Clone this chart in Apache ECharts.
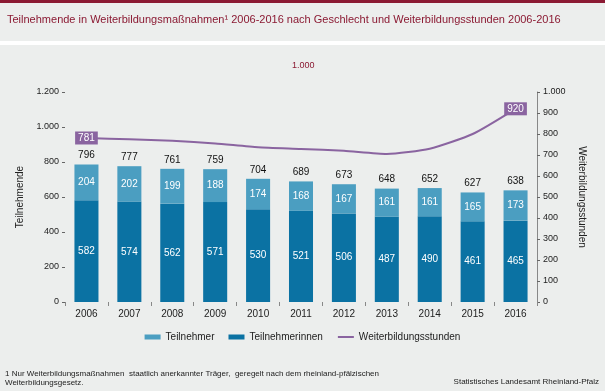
<!DOCTYPE html>
<html><head><meta charset="utf-8">
<script src="https://cdn.jsdelivr.net/npm/echarts@6/dist/echarts.min.js"></script>
<style>html,body{margin:0;padding:0;background:#eceeed;}#c{width:605px;height:391px;}</style>
</head><body><div id="c"></div>
<script>
const years = ['2006','2007','2008','2009','2010','2011','2012','2013','2014','2015','2016'];
const teilnehmerinnen = [582,574,562,571,530,521,506,487,490,461,465];
const teilnehmer = [204,202,199,188,174,168,167,161,161,165,173];
const totals = [796,777,761,759,704,689,673,648,652,627,638];
const stunden = [781,775,768,755,737,729,720,705,730,800,920];
const leftTicks = [0,200,400,600,800,1000,1200];
const rightTicks = [0,100,200,300,400,500,600,700,800,900,1000];

function de(v){return String(v).replace(/\B(?=(\d{3})+(?!\d))/g,'.');}
const F = 'Liberation Sans, Arial, sans-serif';
const last = stunden.length-1;
const lineData = stunden.map((v,i)=> (i===0||i===last) ? {value:v,symbol:'circle',symbolSize:1,
  label:{show:true,position:'inside',color:'#fff',fontSize:10,fontFamily:F,backgroundColor:'#8a64a0',padding:[2,3,1,3]}} : v);
const chart = echarts.init(document.getElementById('c'));
chart.setOption({
  backgroundColor:'#eceeed',
  animation:false,
  textStyle:{fontFamily:F},
  graphic:[
    {type:'rect',shape:{x:0,y:0,width:605,height:3},style:{fill:'#8b1a33'}},
    {type:'rect',shape:{x:0,y:41,width:605,height:4},style:{fill:'#ffffff'}},
    {type:'text',left:7,top:14,style:{text:'Teilnehmende in Weiterbildungsmaßnahmen¹ 2006-2016 nach Geschlecht und Weiterbildungsstunden 2006-2016',fill:'#8b1a33',font:'11px '+F}},
    {type:'text',left:292,top:61,style:{text:'1.000',fill:'#8b1a33',font:'9px '+F}},
    {type:'text',left:5,top:369,style:{text:'1 Nur Weiterbildungsmaßnahmen  staatlich anerkannter Träger,  geregelt nach dem rheinland-pfälzischen\nWeiterbildungsgesetz.',fill:'#222',font:'8px '+F,lineHeight:9}},
    {type:'text',right:6,top:378,style:{text:'Statistisches Landesamt Rheinland-Pfalz',fill:'#222',font:'8px '+F}}
  ],
  legend:{
    top:327,left:'center',itemWidth:16,itemHeight:5,itemGap:14,
    textStyle:{fontSize:10,color:'#222',fontFamily:F},
    data:[{name:'Teilnehmer',icon:'rect'},{name:'Teilnehmerinnen',icon:'rect'},
      {name:'Weiterbildungsstunden',itemStyle:{opacity:0,borderWidth:0}}]
  },
  grid:{left:65,right:68,top:92,bottom:89},
  xAxis:{type:'category',data:years,
    axisLine:{show:false},
    axisTick:{show:true,length:4,lineStyle:{color:'#888'}},
    axisLabel:{fontSize:10,color:'#222',margin:7,fontFamily:F}},
  yAxis:[
    {type:'value',min:0,max:1200,interval:200,name:'Teilnehmende',nameLocation:'middle',nameGap:37,nameRotate:90,
     nameTextStyle:{fontSize:10,color:'#222',fontFamily:F},
     axisLine:{show:false},axisTick:{show:true,length:3,lineStyle:{color:'#666'}},
     splitLine:{show:false},
     axisLabel:{fontSize:9,color:'#222',margin:6,formatter:v=>de(v),fontFamily:F}},
    {type:'value',min:0,max:1000,interval:100,name:'Weiterbildungsstunden',nameLocation:'middle',nameGap:35,nameRotate:-90,
     nameTextStyle:{fontSize:10,color:'#222',fontFamily:F},
     axisLine:{show:true,lineStyle:{color:'#888'}},axisTick:{show:true,length:3,lineStyle:{color:'#666'}},
     splitLine:{show:false},
     axisLabel:{fontSize:9,color:'#222',margin:6,formatter:v=>de(v),fontFamily:F}}
  ],
  series:[
    {name:'Teilnehmerinnen',type:'bar',stack:'t',data:teilnehmerinnen,barWidth:'56%',
     itemStyle:{color:'#0b72a3'},
     label:{show:true,position:'inside',color:'#fff',fontSize:10,fontFamily:F}},
    {name:'Teilnehmer',type:'bar',stack:'t',data:teilnehmer,
     itemStyle:{color:'#4b9ec1'},
     label:{show:true,position:'inside',color:'#fff',fontSize:10,fontFamily:F}},
    {name:'Totals',type:'bar',stack:'t',data:totals.map(()=>0),silent:true,
     itemStyle:{color:'transparent'},
     label:{show:true,position:'top',distance:4,color:'#111',fontSize:10,fontFamily:F,
       formatter:p=>String(totals[p.dataIndex])}},
    {name:'Weiterbildungsstunden',type:'line',yAxisIndex:1,data:lineData,symbol:'none',smooth:0.2,z:5,
     lineStyle:{color:'#8a64a0',width:2},itemStyle:{color:'#8a64a0'},
     label:{show:false}}
  ]
});
</script></body></html>
